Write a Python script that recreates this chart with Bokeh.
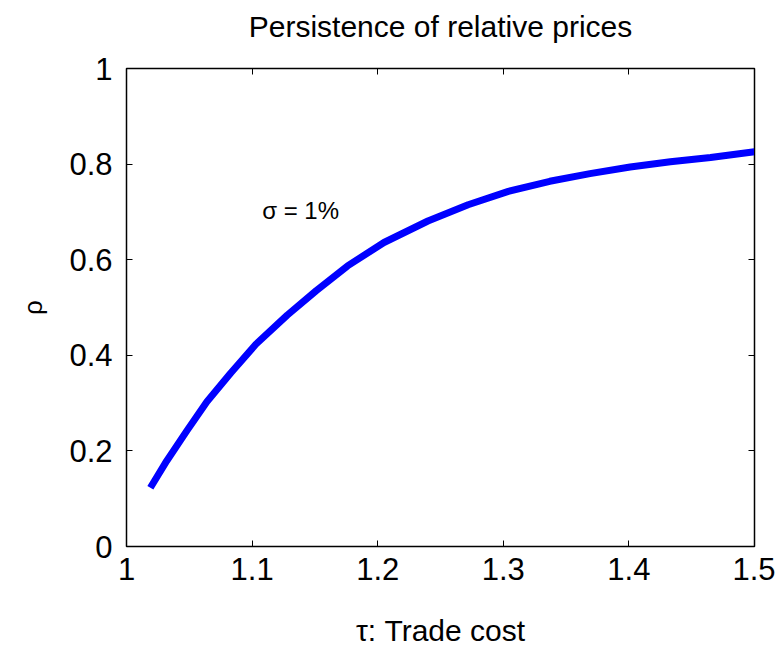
from bokeh.plotting import figure
from bokeh.models import LinearAxis, FixedTicker, Range1d
from bokeh.core.properties import value
from bokeh.embed import file_html
from bokeh.resources import INLINE

# data
tau = [1.019, 1.032, 1.048, 1.064, 1.083, 1.103, 1.128, 1.151, 1.176, 1.205,
       1.240, 1.272, 1.304, 1.337, 1.369, 1.401, 1.433, 1.465, 1.500]
rho = [0.123, 0.179, 0.242, 0.303, 0.363, 0.423, 0.484, 0.535, 0.587, 0.636,
       0.681, 0.715, 0.743, 0.764, 0.780, 0.794, 0.805, 0.814, 0.826]
x_ticks = [1.0, 1.1, 1.2, 1.3, 1.4, 1.5]
y_ticks = [0, 0.2, 0.4, 0.6, 0.8, 1.0]
note_x = [1.108]
note_y = [0.702]
note_text = ["σ = 1%"]
title_text = "Persistence of relative prices"
xlabel_text = "τ: Trade cost"
ylabel_text = "ρ"

FONT = "Liberation Sans"

p = figure(frame_width=628, frame_height=478, output_backend="svg",
           toolbar_location=None,
           x_range=Range1d(1.0, 1.5), y_range=Range1d(0, 1),
           min_border_left=126, min_border_right=21, min_border_top=68,
           min_border_bottom=97)
p.background_fill_color = "white"
p.border_fill_color = "white"
p.outline_line_color = "black"
p.outline_line_width = 1.5
p.grid.visible = False

p.line(tau, rho, line_color="#0000ff", line_width=7, line_join="round")
p.text(note_x, note_y, text=note_text, text_font=value(FONT),
       text_font_size="24px", text_baseline="middle", text_align="left",
       text_color="black")

for ax in (p.xaxis[0], p.yaxis[0]):
    ax.major_tick_in = 6
    ax.major_tick_out = 0
    ax.minor_tick_line_color = None
    ax.axis_line_color = "black"
    ax.major_tick_line_color = "black"
    ax.major_label_text_font = FONT
    ax.major_label_text_font_size = "31px"
    ax.major_label_text_color = "black"
    ax.axis_label_text_font = FONT
    ax.axis_label_text_font_style = "normal"
    ax.axis_label_text_color = "black"

p.xaxis[0].ticker = FixedTicker(ticks=x_ticks)
p.yaxis[0].ticker = FixedTicker(ticks=y_ticks)
p.xaxis[0].major_label_overrides = {1.0: "1", 1.1: "1.1", 1.2: "1.2", 1.3: "1.3", 1.4: "1.4", 1.5: "1.5"}
p.yaxis[0].major_label_overrides = {0: "0", 0.2: "0.2", 0.4: "0.4", 0.6: "0.6", 0.8: "0.8", 1.0: "1"}
p.xaxis[0].major_label_standoff = 11
p.yaxis[0].major_label_standoff = 14
p.xaxis[0].axis_label = xlabel_text
p.xaxis[0].axis_label_text_font_size = "30px"
p.xaxis[0].axis_label_standoff = 31
p.yaxis[0].axis_label = ylabel_text
p.yaxis[0].axis_label_text_font_size = "26px"
p.yaxis[0].axis_label_standoff = 18

top = LinearAxis(ticker=FixedTicker(ticks=x_ticks))
right = LinearAxis(ticker=FixedTicker(ticks=y_ticks))
for ax in (top, right):
    ax.major_tick_in = 6
    ax.major_tick_out = 0
    ax.minor_tick_line_color = None
    ax.major_label_text_font_size = "0px"
    ax.major_label_text_color = None
    ax.major_label_standoff = 0
    ax.axis_line_color = "black"
    ax.major_tick_line_color = "black"
# the title is carried by the mirrored top axis
top.axis_label = title_text
top.axis_label_text_font = FONT
top.axis_label_text_font_size = "30px"
top.axis_label_text_font_style = "normal"
top.axis_label_text_color = "black"
top.axis_label_standoff = 26
p.add_layout(top, "above")
p.add_layout(right, "right")

open("out.html", "w").write(file_html(p, INLINE))
